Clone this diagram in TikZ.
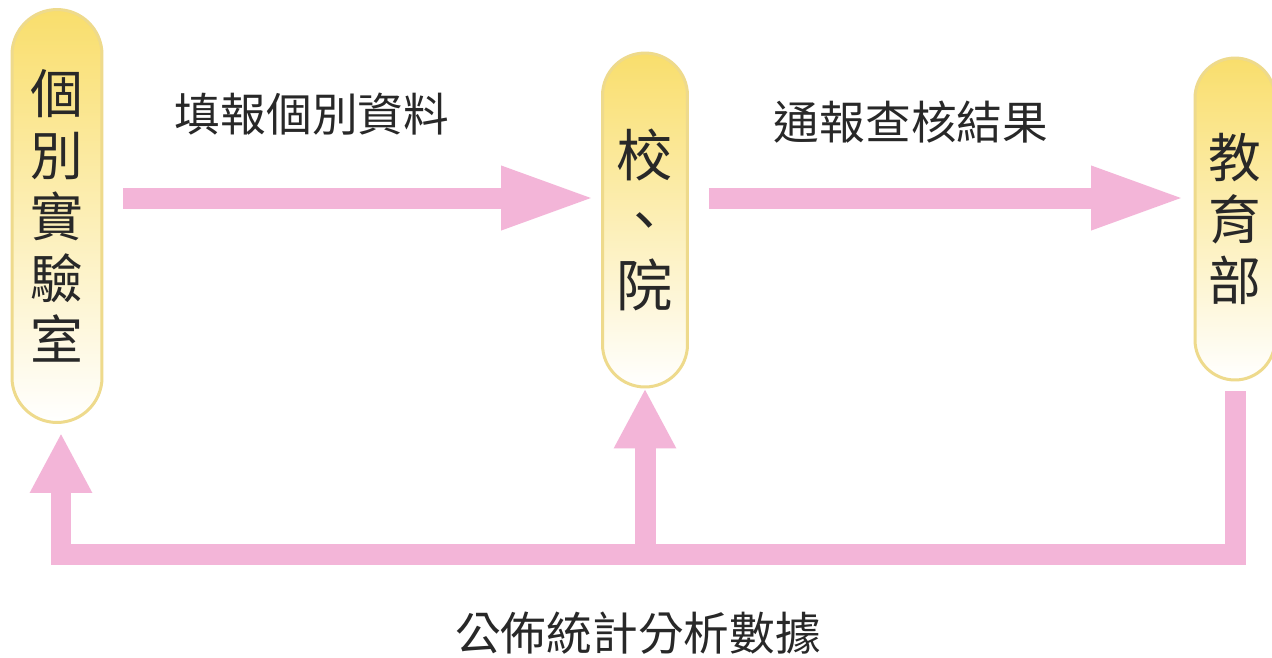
\documentclass[tikz,border=0pt]{standalone}
\usepackage{fontspec}
\newfontfamily\cjk{Noto Sans CJK TC}
\usetikzlibrary{arrows.meta}
\definecolor{pilltop}{RGB}{249,222,108}
\definecolor{pillmid}{RGB}{252,238,170}
\definecolor{pilledge}{RGB}{238,218,140}
\definecolor{flowpink}{RGB}{243,181,216}
\definecolor{inkgray}{RGB}{40,40,40}
\begin{document}
\begin{tikzpicture}[x=.02cm, y=-.02cm,
    pill/.style={draw=pilledge, line width=.06cm, rounded corners=.85cm,
        top color=pilltop, middle color=pillmid, bottom color=white,
        minimum width=1.7cm, inner sep=0pt, align=center, text=inkgray,
        font=\cjk\fontsize{30}{35}\selectfont},
    flowtext/.style={text=inkgray, inner sep=0pt, font=\cjk\fontsize{26}{30}\selectfont},
    flow/.style={draw=flowpink, line width=.42cm, line join=miter,
        -{Triangle[width=1.16cm 0, length=1.9cm 0]}},
    backflow/.style={flow, -{Triangle[width=1.16cm 0, length=1.2cm 0]}}]
    \useasboundingbox (0,0) rectangle (1272,657);
    \fill[white] (0,0) rectangle (1272,657);
    % the three stages
    \node[pill, minimum width=1.8cm, minimum height=8.26cm, rounded corners=.9cm] (lab) at (57,216) {個\\別\\實\\驗\\室};
    \node[pill, minimum height=6.68cm, font=\cjk\fontsize{32}{37}\selectfont] (school) at (645,220) {校\\、\\院};
    \node[pill, minimum width=1.6cm, minimum height=6.44cm, rounded corners=.8cm] (moe) at (1235,219) {教\\育\\部};
    \coordinate (row) at (0,198);
    \coordinate (base) at (0,554);
    % reports going up
    \draw[flow, shorten <=.4cm, shorten >=.1cm] (lab.east |- row) -- (school.west |- row);
    \draw[flow, shorten <=.4cm, shorten >=.15cm] (school.east |- row) -- (moe.west |- row);
    \node[flowtext] (report) at (312,114) {填報個別資料};
    \node[flowtext] (check) at (911,122) {通報查核結果};
    % results coming back
    \draw[backflow, shorten <=.2cm, shorten >=.18cm] (moe.south) -- (moe.south |- base)
        -- ([xshift=.08cm]lab.south |- base) -- ([xshift=.08cm]lab.south);
    \draw[backflow] (school.south |- base) -- (school.south);
    \node[flowtext] (publish) at (638,633) {公佈統計分析數據};
\end{tikzpicture}
\end{document}
